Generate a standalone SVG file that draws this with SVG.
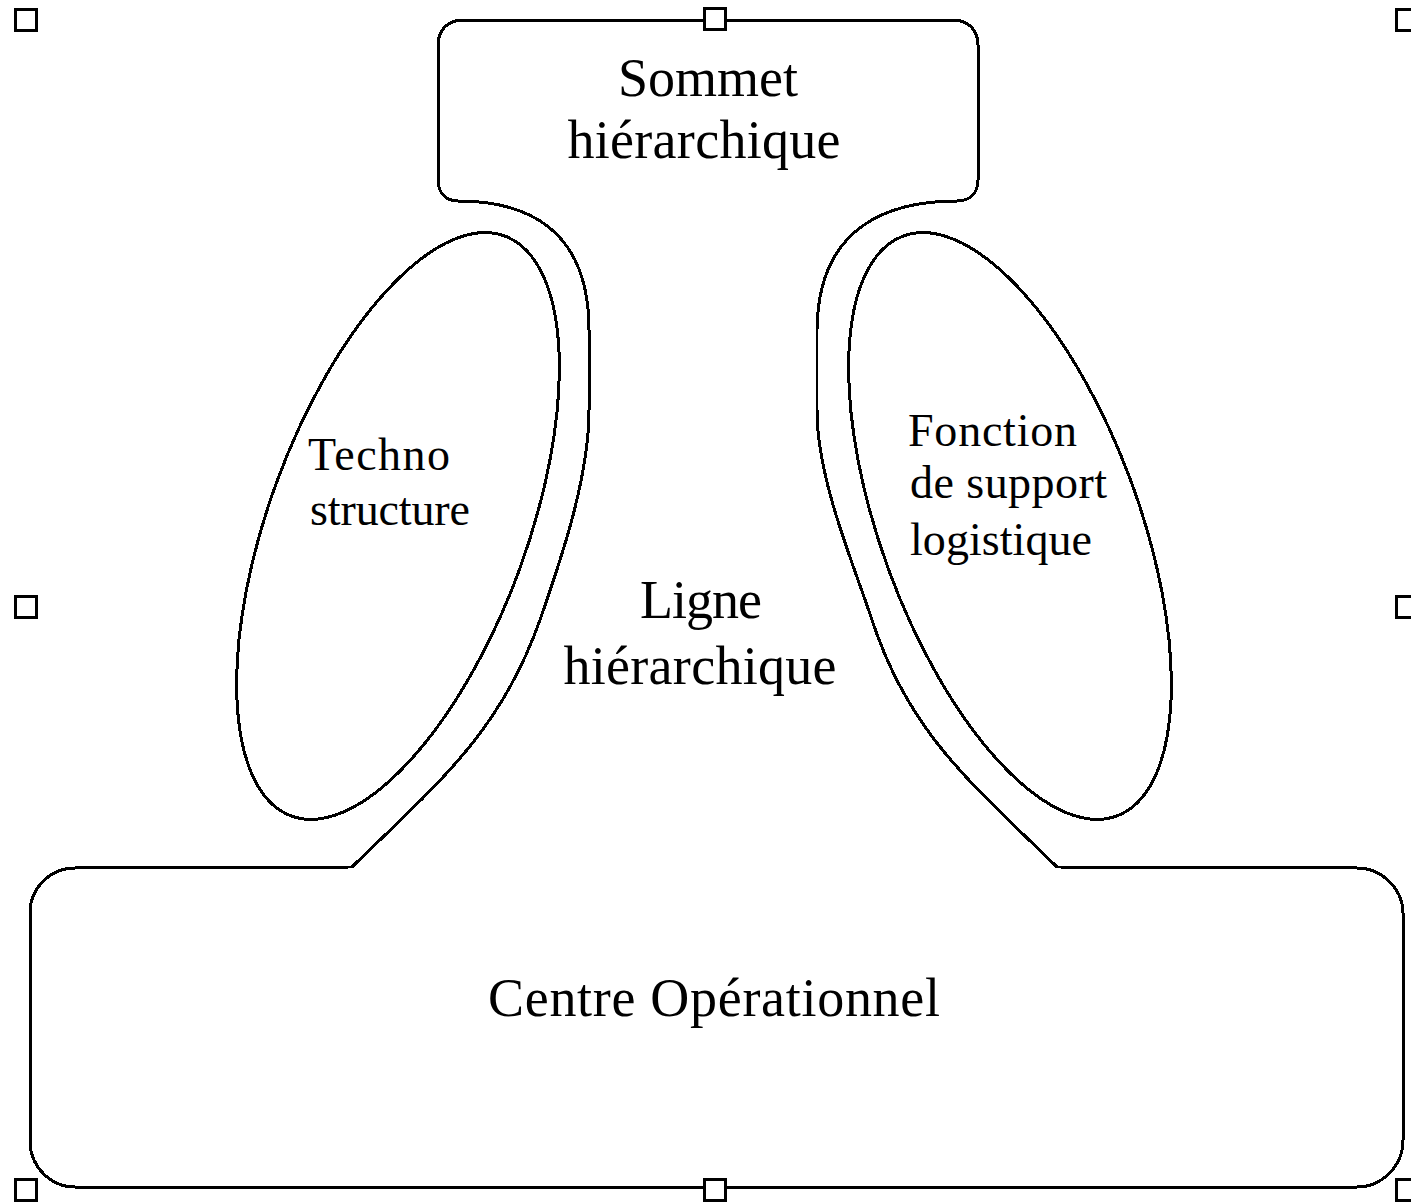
<svg xmlns="http://www.w3.org/2000/svg" width="1411" height="1203" viewBox="0 0 1411 1203">
  <style>
    .line { fill: none; stroke: #000; stroke-width: 3; shape-rendering: crispEdges; }
    .handle { fill: #fff; stroke: #000; stroke-width: 3; shape-rendering: crispEdges; }
    .lbl { font-family: "Liberation Serif", "Times New Roman", serif; fill: #000; }
    .big { font-size: 54px; }
    .small { font-size: 46px; }
  </style>
  <rect x="0" y="0" width="1411" height="1203" fill="#fff"/>

  <!-- Outer contour: apex box, middle line and operating core drawn as one shape -->
  <g id="connectors">
    <path class="line" d="M 438,45 C 438,30 448,20 463,20 L 953,20 C 968,20 978,30 978,45 L 978,180 C 978,193 970,201 957,201
      C 890,201 818,225 817,330 L 817,410
      C 817,480 854,565 872,620
      C 909,733 971,783 1057,867
      L 1357,868 C 1382,868 1403,889 1403,913 L 1403,1140 C 1403,1166 1382,1187 1357,1187
      L 75,1187 C 50,1187 30,1166 30,1141 L 30,913 C 30,888 50,868 75,868 L 352,867
      C 438,783 500,733 540,620
      C 559,565 589,480 589,410 L 589,330
      C 589,225 522,201 458,201
      C 446,201 438,193 438,180 Z"/>
  </g>

  <g id="sommet-hierarchique">
    <text class="lbl big" x="708" y="96" text-anchor="middle" textLength="180" lengthAdjust="spacing">Sommet</text>
    <text class="lbl big" x="704" y="158" text-anchor="middle" textLength="273" lengthAdjust="spacing">hiérarchique</text>
  </g>

  <g id="technostructure">
    <ellipse class="line" cx="398" cy="526" rx="129" ry="309" transform="rotate(20.2 398 526)"/>
    <text class="lbl small" x="308" y="470" textLength="142" lengthAdjust="spacing">Techno</text>
    <text class="lbl small" x="310" y="525" textLength="160" lengthAdjust="spacing">structure</text>
  </g>

  <g id="support-logistique">
    <ellipse class="line" cx="1010" cy="526" rx="129" ry="309" transform="rotate(-20.2 1010 526)"/>
    <text class="lbl small" x="908" y="446" textLength="169" lengthAdjust="spacing">Fonction</text>
    <text class="lbl small" x="910" y="498" textLength="197" lengthAdjust="spacing">de support</text>
    <text class="lbl small" x="910" y="555" textLength="182" lengthAdjust="spacing">logistique</text>
  </g>

  <g id="ligne-hierarchique">
    <text class="lbl big" x="701" y="618" text-anchor="middle" textLength="122" lengthAdjust="spacing">Ligne</text>
    <text class="lbl big" x="700" y="684" text-anchor="middle" textLength="273" lengthAdjust="spacing">hiérarchique</text>
  </g>

  <g id="centre-operationnel">
    <text class="lbl big" x="714" y="1016" text-anchor="middle" textLength="452" lengthAdjust="spacing">Centre Opérationnel</text>
  </g>

  <!-- Selection handles around the drawing frame -->
  <g id="handles">
    <rect class="handle" x="15.5" y="9.5" width="21" height="21"/>
    <rect class="handle" x="704.5" y="8.5" width="21" height="21"/>
    <rect class="handle" x="1396.5" y="9.5" width="21" height="21"/>
    <rect class="handle" x="15.5" y="596.5" width="21" height="21"/>
    <rect class="handle" x="1396.5" y="596.5" width="21" height="21"/>
    <rect class="handle" x="15.5" y="1179.5" width="21" height="21"/>
    <rect class="handle" x="704.5" y="1179.5" width="21" height="21"/>
    <rect class="handle" x="1396.5" y="1179.5" width="21" height="21"/>
  </g>
</svg>
